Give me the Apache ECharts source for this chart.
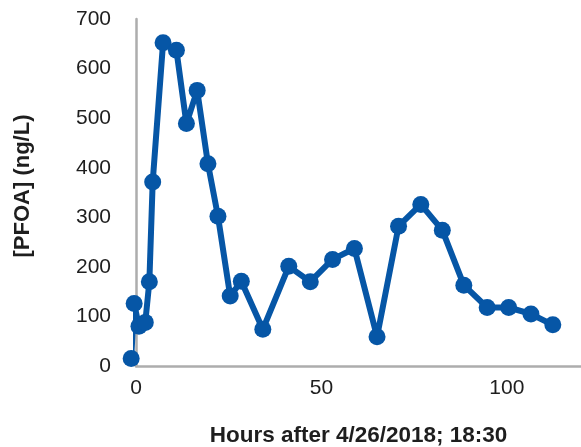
<!DOCTYPE html>
<html>
<head>
<meta charset="utf-8">
<script src="https://cdn.jsdelivr.net/npm/echarts@6/dist/echarts.min.js"></script>
<style>
  html, body { margin: 0; padding: 0; background: #fff; }
  #chart { width: 581px; height: 447px; }
</style>
</head>
<body>
<div id="chart"></div>
<script>
// Sampling time (hours after start) and measured PFOA concentration (ng/L)
const hours = [-1.3, -0.5, 0.8, 2.5, 3.6, 4.5, 7.3, 10.9, 13.6, 16.5, 19.4, 22.1, 25.4, 28.4,
               34.2, 41.2, 47.0, 53.0, 58.9, 65.0, 70.8, 76.8, 82.6, 88.4, 94.7, 100.5, 106.5, 112.4];
const pfoa = [15, 126, 80, 88, 170, 371, 652, 637, 489, 556, 408, 302, 141, 171,
              74, 201, 170, 215, 237, 59, 282, 326, 274, 163, 118, 118, 105, 83];

const xTicks = { min: 0, max: 120, interval: 50 };
const yTicks = { min: 0, max: 700, interval: 100 };

const points = hours.map((h, i) => [h, pfoa[i]]);

const chart = echarts.init(document.getElementById('chart'), null, { renderer: 'canvas' });
const textFont = 'Liberation Sans, Arial, Helvetica, sans-serif';
const axisGray = '#adadad';
const textColor = '#1e1e1e';
const lineBlue = '#0656a6';

chart.setOption({
  animation: false,
  grid: { left: 136, right: 0, top: 19, bottom: 81, containLabel: false, outerBoundsMode: 'none' },
  graphic: [{
    type: 'text',
    x: 23, y: 186,
    rotation: Math.PI / 2,
    style: {
      text: '[PFOA] (ng/L)',
      font: 'bold 22px ' + textFont,
      fill: textColor,
      align: 'center',
      verticalAlign: 'middle'
    }
  }],
  xAxis: {
    type: 'value',
    min: xTicks.min, max: xTicks.max, interval: xTicks.interval,
    name: 'Hours after 4/26/2018; 18:30',
    nameLocation: 'middle',
    nameGap: 58,
    nameTextStyle: { fontFamily: textFont, fontSize: 22.5, fontWeight: 'bold', color: textColor },
    axisLine: { show: true, lineStyle: { color: axisGray, width: 2.5 } },
    axisTick: { show: false },
    splitLine: { show: false },
    axisLabel: {
      fontFamily: textFont, fontSize: 21, color: textColor, margin: 12,
      formatter: v => (v % 50 === 0 ? String(v) : '')
    }
  },
  yAxis: {
    type: 'value',
    min: yTicks.min, max: yTicks.max, interval: yTicks.interval,
    axisLine: { show: true, lineStyle: { color: axisGray, width: 2.5 } },
    axisTick: { show: false },
    splitLine: { show: false },
    axisLabel: { fontFamily: textFont, fontSize: 21, color: textColor, margin: 25 }
  },
  series: [{
    type: 'line',
    data: points,
    clip: false,
    symbol: 'circle',
    symbolSize: 17,
    lineStyle: { color: lineBlue, width: 6 },
    itemStyle: { color: lineBlue }
  }]
});
</script>
</body>
</html>
